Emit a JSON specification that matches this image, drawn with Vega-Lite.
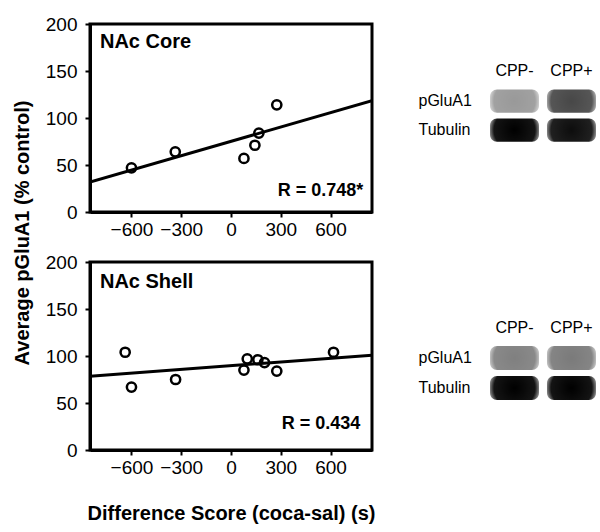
{
  "$schema": "https://vega.github.io/schema/vega-lite/v6.json",
  "background": "white",
  "padding": {"left": 12, "top": 13, "right": 4, "bottom": 5},
  "config": {
    "font": "Liberation Sans",
    "view": {"stroke": "black", "strokeWidth": 3},
    "axis": {"domainColor": "black", "domainWidth": 3, "tickColor": "black", "tickWidth": 2, "tickSize": 5, "labelColor": "black", "labelFont": "Liberation Sans", "labelFontSize": 19, "grid": false, "titleFont": "Liberation Sans", "titleFontSize": 20, "titleFontWeight": "bold", "titleColor": "black"}
  },
  "spacing": 41,
  "hconcat": [
    {
      "title": {"text": "Average pGluA1 (% control)", "orient": "left", "anchor": "middle", "fontSize": 20, "fontWeight": "bold", "font": "Liberation Sans", "color": "black", "offset": 11, "dx": 36},
      "spacing": 10,
      "vconcat": [
        {
          "width": 282, "height": 188,
          "data": {"values": [
            {"diff": -600, "pglua1": 47},
            {"diff": -336, "pglua1": 64},
            {"diff": 78, "pglua1": 57},
            {"diff": 144, "pglua1": 71},
            {"diff": 168, "pglua1": 84},
            {"diff": 276, "pglua1": 114}
          ]},
          "layer": [
            {
              "mark": {"type": "point", "shape": "circle", "filled": false, "size": 85, "strokeWidth": 2.5, "color": "black", "opacity": 1},
              "encoding": {
                "x": {"field": "diff", "type": "quantitative", "scale": {"domain": [-850, 850], "nice": false}, "axis": {"values": [-600, -300, 0, 300, 600], "title": null, "labelPadding": 3}},
                "y": {"field": "pglua1", "type": "quantitative", "scale": {"domain": [0, 200], "nice": false}, "axis": {"values": [0, 50, 100, 150, 200], "title": null, "labelPadding": 8}}
              }
            },
            {
              "transform": [{"regression": "pglua1", "on": "diff", "extent": [-850, 850]}],
              "mark": {"type": "line", "color": "black", "strokeWidth": 3, "clip": true},
              "encoding": {
                "x": {"field": "diff", "type": "quantitative"},
                "y": {"field": "pglua1", "type": "quantitative"}
              }
            },
            {
              "data": {"values": [{"label": "NAc Core"}]},
              "mark": {"type": "text", "align": "left", "baseline": "alphabetic", "fontSize": 20, "fontWeight": "bold", "color": "black"},
              "encoding": {"text": {"field": "label"}, "x": {"datum": -790}, "y": {"datum": 175}}
            },
            {
              "data": {"values": [{"label": "R = 0.748*"}]},
              "mark": {"type": "text", "align": "right", "baseline": "alphabetic", "fontSize": 18, "fontWeight": "bold", "color": "black"},
              "encoding": {"text": {"field": "label"}, "x": {"datum": 798}, "y": {"datum": 17}}
            }
          ]
        },
        {
          "width": 282, "height": 188,
          "data": {"values": [
            {"diff": -638, "pglua1": 104},
            {"diff": -600, "pglua1": 67},
            {"diff": -334, "pglua1": 75},
            {"diff": 78, "pglua1": 85},
            {"diff": 98, "pglua1": 97},
            {"diff": 162, "pglua1": 96},
            {"diff": 202, "pglua1": 93},
            {"diff": 276, "pglua1": 84},
            {"diff": 618, "pglua1": 104}
          ]},
          "layer": [
            {
              "mark": {"type": "point", "shape": "circle", "filled": false, "size": 85, "strokeWidth": 2.5, "color": "black", "opacity": 1},
              "encoding": {
                "x": {"field": "diff", "type": "quantitative", "scale": {"domain": [-850, 850], "nice": false}, "axis": {"values": [-600, -300, 0, 300, 600], "title": "Difference Score (coca-sal) (s)", "labelPadding": 3, "titlePadding": 26}},
                "y": {"field": "pglua1", "type": "quantitative", "scale": {"domain": [0, 200], "nice": false}, "axis": {"values": [0, 50, 100, 150, 200], "title": null, "labelPadding": 8}}
              }
            },
            {
              "transform": [{"regression": "pglua1", "on": "diff", "extent": [-850, 850]}],
              "mark": {"type": "line", "color": "black", "strokeWidth": 3, "clip": true},
              "encoding": {
                "x": {"field": "diff", "type": "quantitative"},
                "y": {"field": "pglua1", "type": "quantitative"}
              }
            },
            {
              "data": {"values": [{"label": "NAc Shell"}]},
              "mark": {"type": "text", "align": "left", "baseline": "alphabetic", "fontSize": 20, "fontWeight": "bold", "color": "black"},
              "encoding": {"text": {"field": "label"}, "x": {"datum": -790}, "y": {"datum": 172}}
            },
            {
              "data": {"values": [{"label": "R = 0.434"}]},
              "mark": {"type": "text", "align": "right", "baseline": "alphabetic", "fontSize": 18, "fontWeight": "bold", "color": "black"},
              "encoding": {"text": {"field": "label"}, "x": {"datum": 780}, "y": {"datum": 22}}
            }
          ]
        }
      ]
    },
    {
      "spacing": 50,
      "vconcat": [
        {
          "width": 106, "height": 188,
          "view": {"stroke": null},
          "data": {"values": [
            {"lane": "CPP-", "protein": "pGluA1", "intensity": 0.4},
            {"lane": "CPP+", "protein": "pGluA1", "intensity": 0.72},
            {"lane": "CPP-", "protein": "Tubulin", "intensity": 1.0},
            {"lane": "CPP+", "protein": "Tubulin", "intensity": 0.95}
          ]},
          "mark": {"type": "rect", "cornerRadius": 7, "fill": {"gradient": "radial", "x1": 0.5, "y1": 0.5, "r1": 0, "x2": 0.5, "y2": 0.5, "r2": 0.6, "stops": [{"offset": 0, "color": "#000000"}, {"offset": 0.7, "color": "#141414"}, {"offset": 1, "color": "#ffffff"}]}},
          "encoding": {
            "x": {"field": "lane", "type": "nominal", "sort": ["CPP-", "CPP+"], "scale": {"type": "band", "paddingInner": 0.14, "paddingOuter": 0}, "axis": {"orient": "top", "title": null, "domain": false, "ticks": false, "labelAngle": 0, "labelFontSize": 16, "offset": -56.7, "labelPadding": 2}},
            "y": {"field": "protein", "type": "nominal", "scale": {"type": "band", "domain": ["_a", "_b", "pGluA1", "Tubulin", "_c"], "paddingInner": 0.2, "paddingOuter": 0.84, "align": 0.152}, "axis": {"title": null, "domain": false, "ticks": false, "labelAlign": "left", "labelPadding": 72, "labelFontSize": 16, "labelExpr": "indexof(['pGluA1','Tubulin'], datum.value) >= 0 ? datum.label : ''"}},
            "opacity": {"field": "intensity", "type": "quantitative", "scale": null, "legend": null}
          }
        },
        {
          "width": 106, "height": 188,
          "view": {"stroke": null},
          "data": {"values": [
            {"lane": "CPP-", "protein": "pGluA1", "intensity": 0.5},
            {"lane": "CPP+", "protein": "pGluA1", "intensity": 0.52},
            {"lane": "CPP-", "protein": "Tubulin", "intensity": 1.0},
            {"lane": "CPP+", "protein": "Tubulin", "intensity": 1.0}
          ]},
          "mark": {"type": "rect", "cornerRadius": 7, "fill": {"gradient": "radial", "x1": 0.5, "y1": 0.5, "r1": 0, "x2": 0.5, "y2": 0.5, "r2": 0.6, "stops": [{"offset": 0, "color": "#000000"}, {"offset": 0.7, "color": "#141414"}, {"offset": 1, "color": "#ffffff"}]}},
          "encoding": {
            "x": {"field": "lane", "type": "nominal", "sort": ["CPP-", "CPP+"], "scale": {"type": "band", "paddingInner": 0.14, "paddingOuter": 0}, "axis": {"orient": "top", "title": null, "domain": false, "ticks": false, "labelAngle": 0, "labelFontSize": 16, "offset": -75, "labelPadding": 2}},
            "y": {"field": "protein", "type": "nominal", "scale": {"type": "band", "domain": ["_a", "_b", "pGluA1", "Tubulin", "_c"], "paddingInner": 0.2, "paddingOuter": 0.733, "align": 0.545}, "axis": {"title": null, "domain": false, "ticks": false, "labelAlign": "left", "labelPadding": 72, "labelFontSize": 16, "labelExpr": "indexof(['pGluA1','Tubulin'], datum.value) >= 0 ? datum.label : ''"}},
            "opacity": {"field": "intensity", "type": "quantitative", "scale": null, "legend": null}
          }
        }
      ]
    }
  ]
}
